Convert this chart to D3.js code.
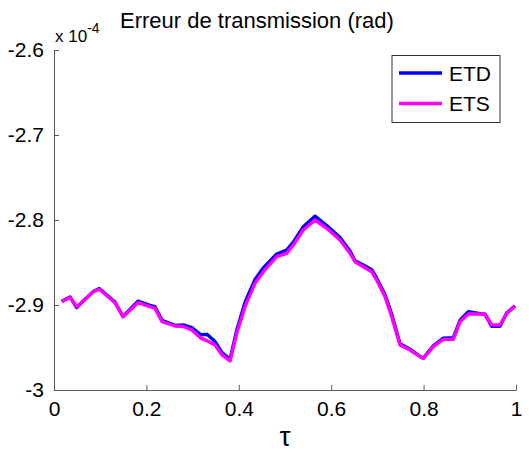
<!DOCTYPE html>
<html><head><meta charset="utf-8">
<script src="https://cdn.jsdelivr.net/npm/d3@7"></script>
<style>body{margin:0;background:#fff}svg{display:block}text{font-family:Arial,"Liberation Sans",sans-serif}</style>
</head><body>
<script>
const tau = [0.0167,0.0346,0.0491,0.0851,0.0981,0.1320,0.1494,0.1818,0.2078,0.2186,0.2338,0.2619,0.2799,0.2981,0.3182,0.3312,0.3485,0.3636,0.3810,0.3955,0.4134,0.4351,0.4530,0.4820,0.5037,0.5180,0.5396,0.5649,0.5903,0.6190,0.6407,0.6515,0.6695,0.6877,0.6985,0.7165,0.7310,0.7489,0.7706,0.7922,0.7994,0.8210,0.8426,0.8643,0.8788,0.8968,0.9329,0.9474,0.9654,0.9799,0.9978];
const etd = [-2.8955,-2.8905,-2.9030,-2.8840,-2.8805,-2.8965,-2.9135,-2.8955,-2.9005,-2.9020,-2.9180,-2.9240,-2.9235,-2.9265,-2.9350,-2.9345,-2.9430,-2.9560,-2.9640,-2.9300,-2.8970,-2.8700,-2.8565,-2.8400,-2.8355,-2.8260,-2.8080,-2.7955,-2.8065,-2.8205,-2.8365,-2.8480,-2.8530,-2.8585,-2.8685,-2.8880,-2.9110,-2.9455,-2.9520,-2.9605,-2.9625,-2.9480,-2.9390,-2.9385,-2.9180,-2.9080,-2.9110,-2.9250,-2.9250,-2.9095,-2.9010];
const ets = [-2.8961,-2.8909,-2.9020,-2.8844,-2.8815,-2.8973,-2.9138,-2.8973,-2.9020,-2.9039,-2.9196,-2.9247,-2.9253,-2.9294,-2.9392,-2.9420,-2.9471,-2.9588,-2.9659,-2.9333,-2.9020,-2.8745,-2.8608,-2.8432,-2.8392,-2.8294,-2.8118,-2.8000,-2.8098,-2.8235,-2.8392,-2.8491,-2.8549,-2.8608,-2.8706,-2.8902,-2.9138,-2.9471,-2.9529,-2.9608,-2.9627,-2.9490,-2.9404,-2.9404,-2.9196,-2.9106,-2.9106,-2.9235,-2.9235,-2.9098,-2.9012];
const xTicks = [0,0.2,0.4,0.6,0.8,1];
const xTickLabels = ["0","0.2","0.4","0.6","0.8","1"];
const yTicks = [-3,-2.9,-2.8,-2.7,-2.6];
const yTickLabels = ["-3","-2.9","-2.8","-2.7","-2.6"];
const seriesNames = ["ETD","ETS"];
const seriesColors = ["#0000ff","#ff00ff"];

const W=529,H=455;
const svg=d3.select("body").append("svg").attr("width",W).attr("height",H);
const x=d3.scaleLinear().domain([0,1]).range([54,516]);
const y=d3.scaleLinear().domain([-3,-2.6]).range([390,50]);
const axisColor="#5a5a5a";

// x axis
const gx=svg.append("g").attr("transform",`translate(0,${y(-3)})`)
 .call(d3.axisBottom(x).tickValues(xTicks).tickFormat((d,i)=>xTickLabels[i]).tickSizeInner(-5).tickSizeOuter(0).tickPadding(11));
gx.select(".domain").attr("stroke",axisColor);
gx.selectAll(".tick line").attr("stroke",axisColor);
gx.selectAll("text").attr("font-size",21).attr("fill","#000").attr("font-family","Arial, 'Liberation Sans', sans-serif");

// y axis
const gy=svg.append("g").attr("transform",`translate(${x(0)},0)`)
 .call(d3.axisLeft(y).tickValues(yTicks).tickFormat((d,i)=>yTickLabels[i]).tickSizeInner(-5).tickSizeOuter(0).tickPadding(10));
gy.select(".domain").attr("stroke",axisColor);
gy.selectAll(".tick line").attr("stroke",axisColor);
gy.selectAll("text").attr("font-size",21).attr("fill","#000").attr("font-family","Arial, 'Liberation Sans', sans-serif");

const line=d3.line().x(d=>x(d[0])).y(d=>y(d[1]));
const data=[tau.map((t,i)=>[t,etd[i]]),tau.map((t,i)=>[t,ets[i]])];
data.forEach((d,i)=>{
  svg.append("path").datum(d).attr("d",line).attr("fill","none")
   .attr("stroke",seriesColors[i]).attr("stroke-width",3.4).attr("stroke-linejoin","round");
});

// exponent
const ex=svg.append("text").attr("x",55).attr("y",42).attr("font-size",17).attr("fill","#000");
ex.append("tspan").text("x 10");
ex.append("tspan").attr("dy",-9).attr("font-size",14).text("-4");

// title
svg.append("text").attr("x",120).attr("y",28).attr("font-size",22).attr("fill","#000").text("Erreur de transmission (rad)");

// x label
svg.append("text").attr("x",285).attr("y",446).attr("text-anchor","middle").attr("font-size",28)
 .attr("font-family","'DejaVu Serif', serif").attr("fill","#000").text("τ");

// legend
const lg=svg.append("g");
lg.append("rect").attr("x",392).attr("y",55.5).attr("width",108).attr("height",67).attr("fill","#fff").attr("stroke","#333").attr("stroke-width",1);
seriesNames.forEach((n,i)=>{
  const yy=73+i*30.5;
  lg.append("line").attr("x1",399).attr("x2",442).attr("y1",yy).attr("y2",yy).attr("stroke",seriesColors[i]).attr("stroke-width",3.5);
  lg.append("text").attr("x",449).attr("y",yy+7.5).attr("font-size",21).attr("fill","#000").text(n);
});
</script>
</body></html>
